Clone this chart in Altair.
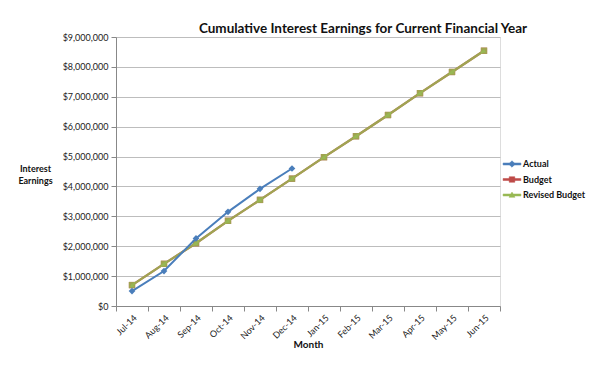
import altair as alt
import pandas as pd

months = ["Jul-14", "Aug-14", "Sep-14", "Oct-14", "Nov-14", "Dec-14",
          "Jan-15", "Feb-15", "Mar-15", "Apr-15", "May-15", "Jun-15"]
actual = [500000, 1170000, 2260000, 3150000, 3920000, 4600000]
budget = [700000, 1410000, 2100000, 2850000, 3550000, 4260000,
          4980000, 5680000, 6390000, 7120000, 7830000, 8540000]
revised = [700000, 1410000, 2100000, 2850000, 3550000, 4260000,
           4980000, 5680000, 6390000, 7120000, 7830000, 8540000]
series = ["Actual", "Budget", "Revised Budget"]
colors = ["#4A7EBB", "#BE4B48", "#98B954"]

rows = []
for m, v in zip(months, actual):
    rows.append({"Month": m, "Series": "Actual", "Value": v})
for m, v in zip(months, budget):
    rows.append({"Month": m, "Series": "Budget", "Value": v})
for m, v in zip(months, revised):
    rows.append({"Month": m, "Series": "Revised Budget", "Value": v})
df = pd.DataFrame(rows)

FONT = "Lato"

color_scale = alt.Scale(domain=series, range=colors)
legend_paths = [
    "M-1.15,-0.13H1.15V0.13H-1.15Z M0,-0.42L0.42,0L0,0.42L-0.42,0Z",
    "M-1.15,-0.13H1.15V0.13H-1.15Z M-0.36,-0.36H0.36V0.36H-0.36Z",
    "M-1.15,-0.13H1.15V0.13H-1.15Z M0,-0.38L0.38,0.3H-0.38Z",
]
shape_scale = alt.Scale(domain=series, range=legend_paths)

leg = alt.Legend(orient="none", legendX=388, legendY=119, title=None,
                 labelFont=FONT, labelFontSize=9, labelFontWeight="bold",
                 labelColor="#111", symbolSize=240, rowPadding=2.5,
                 symbolStrokeWidth=0.5, symbolOpacity=1, labelOffset=3)

x_enc = alt.X("Month:N", sort=months, title="Month",
              scale=alt.Scale(paddingInner=0, paddingOuter=0),
              axis=alt.Axis(labelAngle=-45, tickBand="extent", labelFontSize=9,
                            labelFont=FONT, labelColor="#222", titleFont=FONT,
                            titleFontSize=10, titleFontWeight="bold", titleColor="#111",
                            titlePadding=-2, domainColor="#888", tickColor="#888",
                            tickSize=5, grid=False))
y_enc = alt.Y("Value:Q", title=["Interest", "Earnings"],
              scale=alt.Scale(domain=[0, 9000000], nice=False),
              axis=alt.Axis(format="$,.0f", values=list(range(0, 9000001, 1000000)),
                            labelFont=FONT, labelFontSize=9, labelColor="#222",
                            titleFont=FONT, titleFontSize=9, titleFontWeight="bold",
                            titleColor="#111", titleAngle=0, titleAlign="center",
                            titleBaseline="middle", titleX=-81, titleY=131,
                            titleLineHeight=12,
                            domainColor="#888", tickColor="#888", tickSize=5,
                            gridColor="#BDBDBD", gridWidth=1, labelPadding=3))

color_enc = alt.Color("Series:N", scale=color_scale, legend=leg)
shape_enc = alt.Shape("Series:N", scale=shape_scale, legend=leg)

base = alt.Chart(df).encode(x=x_enc, y=y_enc, color=color_enc)

budget_line = base.transform_filter("datum.Series === 'Budget'").mark_line(strokeWidth=2.2)
budget_pts = base.transform_filter("datum.Series === 'Budget'").mark_point(
    shape="square", filled=True, size=40, opacity=1)
rev_line = base.transform_filter("datum.Series === 'Revised Budget'").mark_line(
    strokeWidth=2.2, opacity=0.82)
rev_pts = base.transform_filter("datum.Series === 'Revised Budget'").mark_point(
    shape="square", filled=True, size=40, opacity=0.8)
rev_tri = base.transform_filter("datum.Series === 'Revised Budget'").mark_point(
    shape="triangle-up", filled=True, size=18, opacity=1)
act_line = base.transform_filter("datum.Series === 'Actual'").mark_line(strokeWidth=2)
act_pts = base.transform_filter("datum.Series === 'Actual'").mark_point(
    shape="diamond", filled=True, size=45, opacity=1)
legend_layer = base.transform_filter("false").mark_point(filled=True, opacity=1).encode(
    shape=shape_enc)

chart = alt.layer(legend_layer, budget_line, budget_pts, rev_line, rev_pts, rev_tri,
                  act_line, act_pts).properties(
    width=384, height=269,
    title=alt.TitleParams("Cumulative Interest Earnings for Current Financial Year",
                          font=FONT, fontSize=13.5, fontWeight="bold", color="#111",
                          anchor="middle", dx=55, offset=-2),
    autosize=alt.AutoSizeParams(type="none"),
    padding={"left": 108, "top": 29, "right": 103, "bottom": 56},
).configure_view(stroke=None).configure(background="white")

chart.save("out.html", embed_options={"renderer": "svg", "actions": False})
